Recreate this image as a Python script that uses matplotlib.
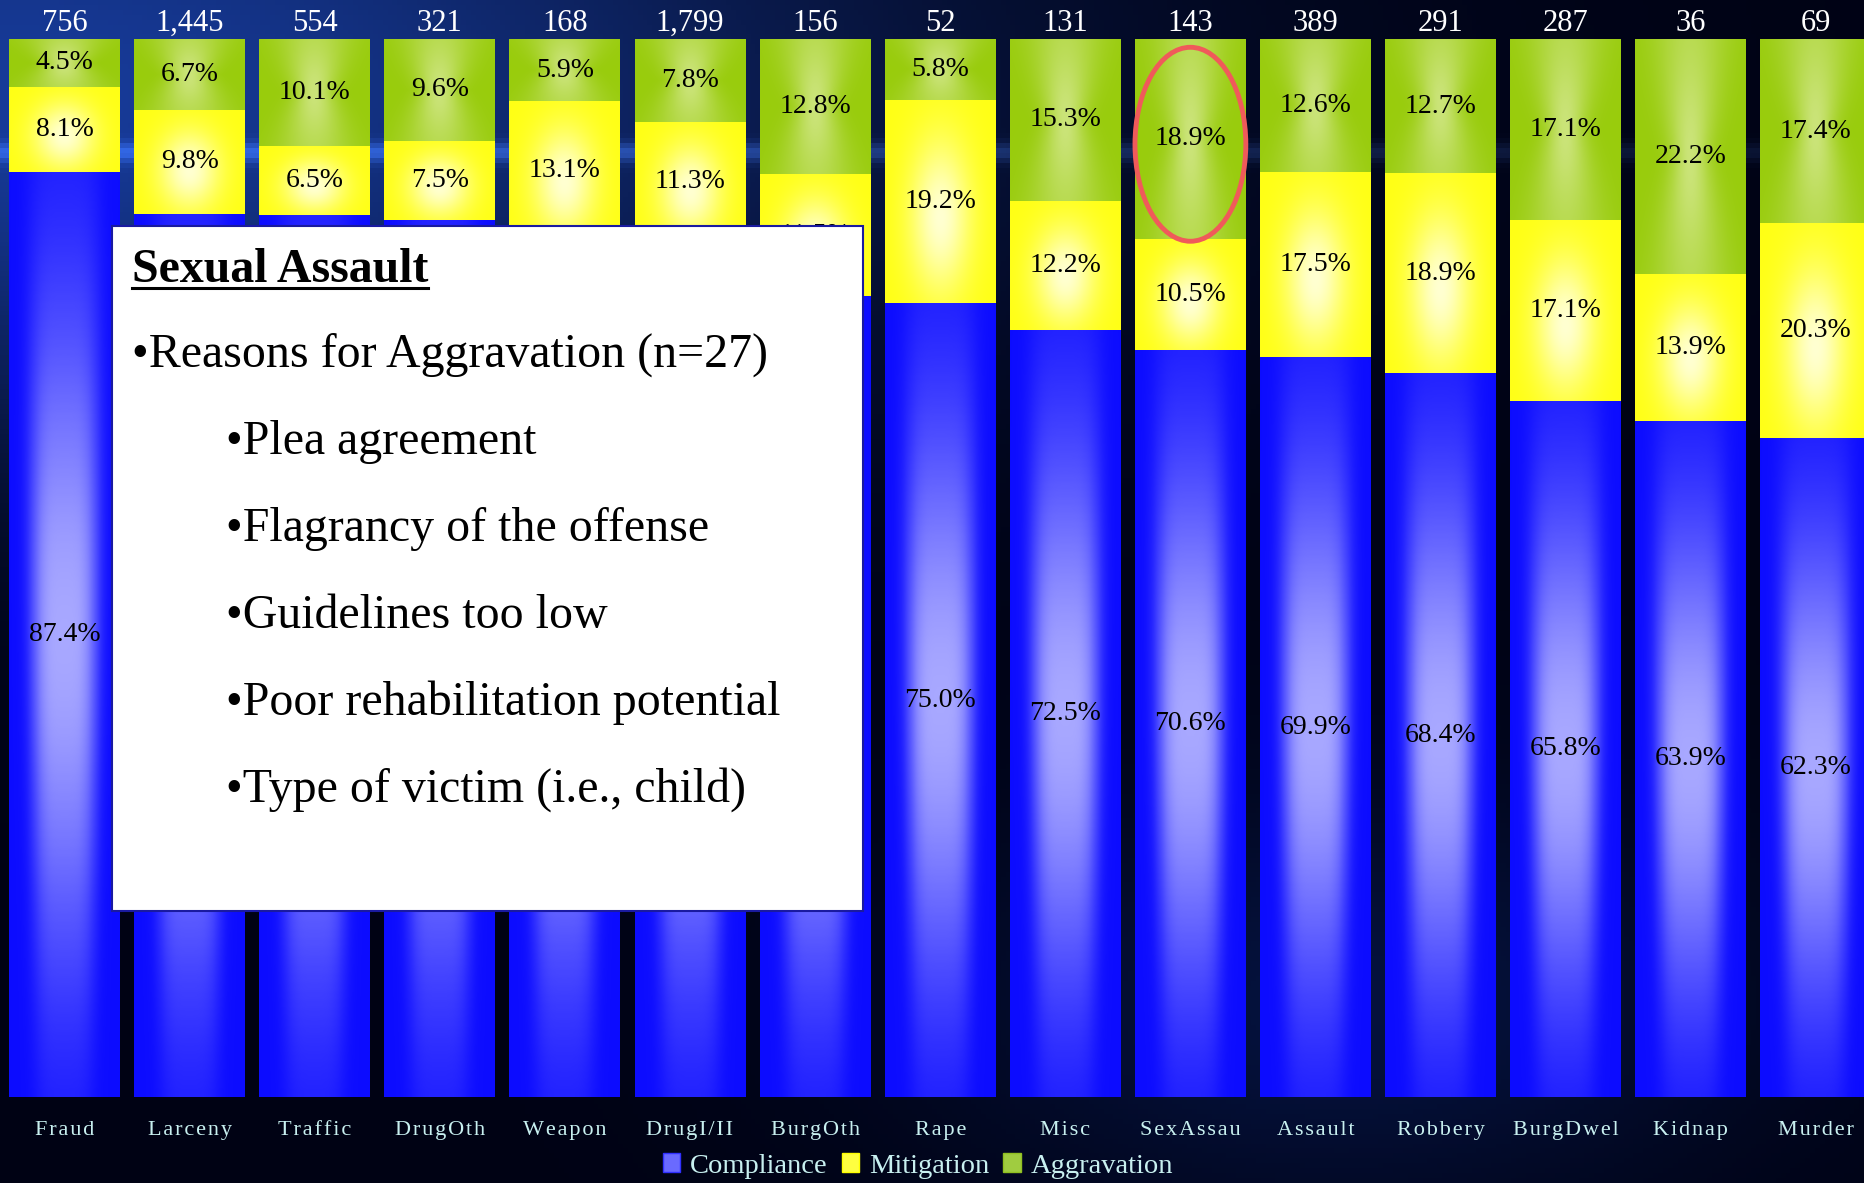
import numpy as np
import matplotlib.pyplot as plt
from matplotlib.patches import Rectangle, Ellipse, Patch
from matplotlib.lines import Line2D

plt.rcParams['font.family'] = ['Liberation Serif', 'DejaVu Serif']

categories = ['Fraud', 'Larceny', 'Traffic', 'DrugOth', 'Weapon', 'DrugI/II', 'BurgOth', 'Rape',
              'Misc', 'SexAssau', 'Assault', 'Robbery', 'BurgDwel', 'Kidnap', 'Murder']
counts = ['756', '1,445', '554', '321', '168', '1,799', '156', '52',
          '131', '143', '389', '291', '287', '36', '69']
compliance = [87.4, 83.5, 83.4, 82.9, 81.0, 80.9, 75.7, 75.0, 72.5, 70.6, 69.9, 68.4, 65.8, 63.9, 62.3]
mitigation = [8.1, 9.8, 6.5, 7.5, 13.1, 11.3, 11.5, 19.2, 12.2, 10.5, 17.5, 18.9, 17.1, 13.9, 20.3]
aggravation = [4.5, 6.7, 10.1, 9.6, 5.9, 7.8, 12.8, 5.8, 15.3, 18.9, 12.6, 12.7, 17.1, 22.2, 17.4]

series_names = ['Compliance', 'Mitigation', 'Aggravation']

box_title = 'Sexual Assault'
box_head = '\u2022Reasons for Aggravation (n=27)'
box_items = ['\u2022Plea agreement', '\u2022Flagrancy of the offense', '\u2022Guidelines too low',
             '\u2022Poor rehabilitation potential', '\u2022Type of victim (i.e., child)']

W, H = 1864, 1183
fig = plt.figure(figsize=(W / 100, H / 100), dpi=100)

# background
bg_ax = fig.add_axes([0, 0, 1, 1], zorder=-1)
yy, xx = np.mgrid[0:1:240j, 0:1:380j]
bg = np.zeros((240, 380, 3))
bg[..., 1] = 0.01
bg[..., 2] = 0.08
glow = np.exp(-((xx - 0.0) / 0.45) ** 2 - ((yy - 0.08) / 0.28) ** 2)
bg += glow[..., None] * np.array([0.09, 0.22, 0.52])
streak = np.exp(-((yy - 0.127) / 0.008) ** 2) * (0.3 + 0.7 * np.exp(-((xx - 0.2) / 0.45) ** 2))
bg += streak[..., None] * np.array([0.12, 0.2, 0.35])
glow2 = np.exp(-((xx - 0.72) / 0.22) ** 2 - ((yy - 0.85) / 0.18) ** 2)
bg += glow2[..., None] * np.array([0.02, 0.06, 0.16])
bg_ax.imshow(np.clip(bg, 0, 1), extent=[0, 1, 0, 1], aspect='auto', origin='upper')
bg_ax.axis('off')

pitch = 125.1
x0 = 64.5
ax = fig.add_axes([0, 1 - 1097 / H, 1, (1097 - 39) / H])
ax.set_facecolor('none')
ax.axis('off')

x = np.arange(len(categories))
bw = 0.886
b1 = ax.bar(x, compliance, width=bw, color='#1010ff')
b2 = ax.bar(x, mitigation, width=bw, bottom=compliance, color='#ffff10')
bot3 = [c + m for c, m in zip(compliance, mitigation)]
b3 = ax.bar(x, aggravation, width=bw, bottom=bot3, color='#99cc10')


def grad(kind, n=100):
    v, u = np.mgrid[1:0:n * 1j, 0:1:n * 1j]  # v=1 at top row
    if kind == 'blue':
        base = np.array([0.05, 0.05, 1.0])
        light = np.array([0.66, 0.66, 1.0])
        fx = np.exp(-((u - 0.5) / (0.27 + 0.06 * v)) ** 4)
        w = fx * np.exp(-((v - 0.5) / 0.36) ** 2)
    elif kind == 'yellow':
        base = np.array([1.0, 1.0, 0.08])
        light = np.array([1.0, 1.0, 0.82])
        w = np.exp(-((u - 0.5) / 0.28) ** 2 - ((v - 0.42) / 0.38) ** 2)
    else:
        base = np.array([0.6, 0.8, 0.05])
        light = np.array([0.83, 0.91, 0.55])
        w = 0.85 * np.exp(-((u - 0.5) / (0.16 + 0.16 * np.abs(2 * v - 1))) ** 2) \
            * (0.55 + 0.45 * np.exp(-((v - 0.5) / 0.4) ** 2))
    return base + (light - base) * w[..., None]


for bars, kind in [(b1, 'blue'), (b2, 'yellow'), (b3, 'green')]:
    img = grad(kind)
    for p in bars:
        ax.imshow(img, extent=[p.get_x(), p.get_x() + p.get_width(), p.get_y(), p.get_y() + p.get_height()],
                  aspect='auto', origin='upper', zorder=2)

ax.set_xlim(-x0 / pitch, (W - x0) / pitch)
ax.set_ylim(0, 100)

ppu = (1097 - 39) / 100.0

# segment labels
for i in range(len(categories)):
    ax.text(i, compliance[i] / 2, f'{compliance[i]:.1f}%', ha='center', va='center', fontsize=20, color='black', zorder=3)
    ax.text(i, compliance[i] + mitigation[i] / 2, f'{mitigation[i]:.1f}%', ha='center', va='center', fontsize=20, color='black', zorder=3)
    ax.text(i, bot3[i] + aggravation[i] / 2, f'{aggravation[i]:.1f}%', ha='center', va='center', fontsize=20, color='black', zorder=3)
    ax.text(i, (1097 - 31) / ppu, counts[i], ha='center', va='baseline', fontsize=22, color='white', clip_on=False)
    spaced = '\u200a'.join(categories[i])
    ax.text(i, (1097 - 1135) / ppu, spaced, ha='center', va='baseline', fontsize=16, color='#c8f0f0', clip_on=False)

# highlight ellipse around SexAssau aggravation
k = categories.index('SexAssau')
ax.add_patch(Ellipse((k, bot3[k] + aggravation[k] / 2 - 0.5), bw * 1.0, aggravation[k] * 0.97,
                     facecolor='none', edgecolor='#f05a5a', lw=3.5, zorder=4))

# legend
handles = [Patch(facecolor='#6a6aff', edgecolor='#3030ff'),
           Patch(facecolor='#ffff40', edgecolor='#ffff00'),
           Patch(facecolor='#a0cc40', edgecolor='#90c020')]
fig.legend(handles, series_names, loc='center', bbox_to_anchor=(918 / W, 1 - 1166 / H), ncol=3,
           frameon=False, fontsize=20.5, labelcolor='#c8f0f0', handlelength=0.6, handleheight=0.6,
           handletextpad=0.35, columnspacing=0.5, borderpad=0)

# text box
fig.patches.append(Rectangle((112 / W, 1 - 911 / H), (863 - 112) / W, (911 - 226) / H,
                             transform=fig.transFigure, facecolor='white', edgecolor='#1a1aa0',
                             lw=1.5, zorder=5))
t = fig.text(132 / W, 1 - 282 / H, box_title, fontsize=34.5, fontweight='bold', color='black',
             va='baseline', ha='left', zorder=6)
fig.text(132 / W, 1 - 367 / H, box_head, fontsize=34.5, color='black', va='baseline', ha='left', zorder=6)
for j, item in enumerate(box_items):
    fig.text(226 / W, 1 - (454 + 87 * j) / H, item, fontsize=34.5, color='black', va='baseline', ha='left', zorder=6)

fig.canvas.draw()
bb = t.get_window_extent()
fig.lines.append(Line2D([bb.x0 / W, bb.x1 / W], [1 - 288 / H, 1 - 288 / H], transform=fig.transFigure,
                        color='black', lw=2.2, zorder=6))

fig.savefig('out.png', dpi=100)
